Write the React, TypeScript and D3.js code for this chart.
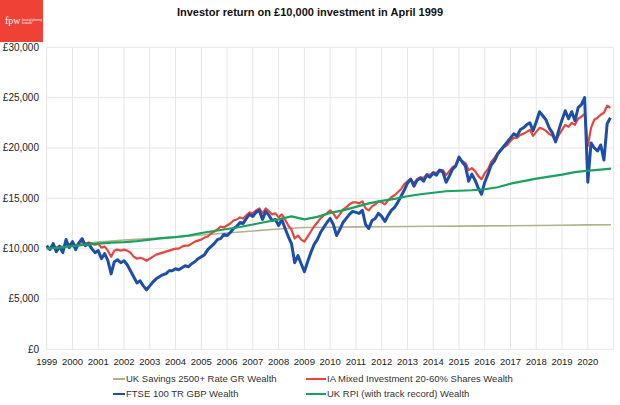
import React from 'react';
import * as d3 from 'd3';

const title = 'Investor return on £10,000 investment in April 1999';
const yearTicks = [1999, 2000, 2001, 2002, 2003, 2004, 2005, 2006, 2007, 2008, 2009, 2010, 2011, 2012, 2013, 2014, 2015, 2016, 2017, 2018, 2019, 2020];
const gridYears = [1999, 2000, 2001, 2002, 2003, 2004, 2005, 2006, 2007, 2008, 2009, 2010, 2011, 2012, 2013, 2014, 2015, 2016, 2017, 2018, 2019, 2020, 2021];
const valueTicks = [0, 5000, 10000, 15000, 20000, 25000, 30000];

// series sampled every 1/8 year from 1999.0
const seriesStart = 1999;
const seriesStep = 0.125;

const ftse = [
  10300, 9900, 10500, 9700, 10200, 9600, 10900, 10100,
  10700, 9900, 10600, 11000, 10300, 10500, 10000, 9600,
  9800, 9000, 9500, 8800, 7500, 8700, 8900, 8600,
  8800, 8400, 7800, 7200, 6600, 6800, 6300, 5900,
  6300, 6700, 7000, 7200, 7400, 7500, 7800, 7800,
  8000, 7900, 8100, 8300, 8200, 8500, 8700, 9000,
  9200, 9400, 9900, 10200, 10500, 10900, 11000, 11400,
  11300, 11600, 12000, 12200, 12600, 12500, 13000, 13400,
  13200, 13600, 13800, 12900, 13700, 13300, 12800, 12900,
  12300, 12900, 12000, 11200, 10500, 8600, 9300, 8500,
  7700, 8700, 9600, 10400, 10900, 11600, 12100, 12600,
  13000, 12400, 11300, 11900, 12600, 13000, 13400, 13700,
  13600, 13500, 13800, 12400, 12000, 12800, 13000, 13500,
  13200, 12700, 13300, 13800, 14100, 14600, 15200, 15800,
  16500, 16900, 16200, 16800, 17000, 16700, 17300, 17100,
  17500, 17300, 17800, 17600, 16600, 17200, 17900, 18200,
  19100, 18600, 18200, 16700, 17400, 16800, 16000, 15400,
  16600, 17400, 18300, 18700, 19400, 19800, 20200, 20600,
  21000, 21400, 21200, 21800, 22000, 22300, 22500, 21700,
  22600, 23600, 23200, 22800, 22000, 21500, 20600, 21800,
  22800, 23700, 22900, 23600, 22700, 24000, 24300, 25000,
  16600, 20500, 20000, 19700, 20300, 18800, 22400, 23000,
];

const iaMixed = [
  10100, 10000, 10300, 10100, 10300, 10100, 10500, 10400,
  10600, 10300, 10500, 10700, 10500, 10600, 10500, 10400,
  10500, 10100, 10200, 9800, 9200, 9800, 9900, 9800,
  9900, 9800, 9600, 9200, 9000, 9100, 9000, 8800,
  9000, 9200, 9400, 9500, 9600, 9700, 9800, 9900,
  10000, 10000, 10200, 10300, 10300, 10500, 10700, 10800,
  10900, 11100, 11200, 11500, 11700, 11900, 12200, 12100,
  12300, 12500, 12800, 12900, 13100, 13000, 13300, 13600,
  13500, 13800, 14000, 13500, 14000, 13700, 13400, 13500,
  13100, 13400, 12900, 12300, 11900, 11000, 11300, 10900,
  10700, 11200, 11700, 12200, 12600, 13000, 13300, 13500,
  13800, 13500, 13000, 13400, 13900, 14100, 14400, 14600,
  14600, 14500, 14700, 14000, 13800, 14200, 14400, 14700,
  14600, 14400, 14800, 15100, 15300, 15600, 15900, 16400,
  16700, 16900, 16500, 16900, 17100, 17000, 17400, 17300,
  17600, 17500, 17800, 17800, 17300, 17700, 18100, 18300,
  18900, 18700, 18500, 17800, 18000, 17700, 17200, 16900,
  17500, 17900, 18600, 19000, 19500, 19800, 20100, 20300,
  20700, 21000, 21000, 21300, 21400, 21600, 21800, 21200,
  21600, 22000, 21900, 21700, 21400, 21200, 20700, 21300,
  21800, 22300, 22100, 22500, 22300, 22900, 23100, 23400,
  20200, 22000, 22800, 23000, 23300, 23500, 24200, 24000,
];

const rpiDates = [1999, 1999.5, 2000, 2000.5, 2001, 2001.5, 2002, 2002.5, 2003, 2003.5, 2004, 2004.5, 2005, 2005.5, 2006, 2006.5, 2007, 2007.5, 2008, 2008.5, 2009, 2009.5, 2010, 2010.5, 2011, 2011.5, 2012, 2012.5, 2013, 2013.5, 2014, 2014.5, 2015, 2015.5, 2016, 2016.5, 2017, 2017.5, 2018, 2018.5, 2019, 2019.5, 2020, 2020.5, 2020.9];
const rpi = [10000, 10100, 10250, 10400, 10500, 10600, 10650, 10750, 10900, 11050, 11150, 11300, 11550, 11750, 11950, 12150, 12400, 12650, 12900, 13200, 12900, 13150, 13550, 13800, 14150, 14500, 14750, 14950, 15200, 15400, 15550, 15700, 15750, 15800, 15900, 16100, 16450, 16700, 16950, 17150, 17350, 17600, 17750, 17850, 17950];

const savingsDates = [1999, 2000, 2001, 2002, 2003, 2004, 2005, 2006, 2007, 2008, 2009, 2010, 2011, 2012, 2013, 2014, 2015, 2016, 2017, 2018, 2019, 2020, 2020.9];
const savings = [10000, 10350, 10650, 10850, 11000, 11150, 11350, 11550, 11750, 11950, 12100, 12130, 12160, 12180, 12200, 12220, 12240, 12260, 12280, 12300, 12330, 12360, 12380];

const seriesNames = ['UK Savings 2500+ Rate GR Wealth', 'IA Mixed Investment 20-60% Shares Wealth', 'FTSE 100 TR GBP Wealth', 'UK RPI (with track record) Wealth'];
const seriesColors = ['#b3b08a', '#e8453c', '#1d4fa8', '#17a35d'];

const FONT = '"Liberation Sans", Arial, sans-serif';

export default function App() {
  const W = 620, H = 405;
  const x = d3.scaleLinear().domain([1999, 2021]).range([46.7, 613.6]);
  const y = d3.scaleLinear().domain([0, 30000]).range([349.3, 47.3]);
  const line = d3.line<[number, number]>().x(d => x(d[0])).y(d => y(d[1]));

  const ftsePts = ftse.map((v, i) => [seriesStart + i * seriesStep, v] as [number, number]);
  const iaPts = iaMixed.map((v, i) => [seriesStart + i * seriesStep, v] as [number, number]);
  const rpiPts = rpi.map((v, i) => [rpiDates[i], v] as [number, number]);
  const savPts = savings.map((v, i) => [savingsDates[i], v] as [number, number]);

  const paths = [
    { d: line(savPts), c: seriesColors[0], w: 1.6 },
    { d: line(iaPts), c: seriesColors[1], w: 2.2 },
    { d: line(ftsePts), c: seriesColors[2], w: 3 },
    { d: line(rpiPts), c: seriesColors[3], w: 2.2 },
  ];

  const legend = [
    { name: seriesNames[0], c: seriesColors[0], lx: 113, row: 0 },
    { name: seriesNames[1], c: seriesColors[1], lx: 306, row: 0 },
    { name: seriesNames[2], c: seriesColors[2], lx: 113, row: 1 },
    { name: seriesNames[3], c: seriesColors[3], lx: 306, row: 1 },
  ];

  return (
    <svg width={W} height={H} style={{ position: 'absolute', left: 0, top: 0, background: '#fff' }} fontFamily={FONT}>
      <rect x={0} y={0} width={W} height={H} fill="#fff" />
      {/* logo */}
      <rect x={0} y={0} width={43} height={42} fill="#ef4136" />
      <text x={5} y={24} fill="#fff" fontFamily='"Liberation Serif", "DejaVu Serif", serif' fontSize={10}>fpw</text>
      <text x={22} y={21} fill="#fff" fontSize={2.6}>financial planning</text>
      <text x={22} y={24} fill="#fff" fontSize={2.6}>&amp; wealth</text>

      <text x={310} y={16} textAnchor="middle" fontSize={11} fontWeight="bold" fill="#111">{title}</text>

      {/* grid */}
      {valueTicks.map(v => (
        <line key={'h' + v} x1={x(1999)} x2={x(2021)} y1={y(v)} y2={y(v)} stroke="#e6e6e6" strokeWidth={1} />
      ))}
      {gridYears.map(t => (
        <line key={'v' + t} x1={x(t)} x2={x(t)} y1={y(30000)} y2={y(0)} stroke="#e6e6e6" strokeWidth={1} />
      ))}

      {valueTicks.map(v => (
        <text key={'yl' + v} x={39} y={y(v)} dy="0.35em" textAnchor="end" fontSize={10} fill="#222">
          {'£' + d3.format(',')(v)}
        </text>
      ))}
      {yearTicks.map(t => (
        <text key={'xl' + t} x={x(t)} y={365} textAnchor="middle" fontSize={9.5} fill="#222">{t}</text>
      ))}

      {paths.map((p, i) => (
        <path key={i} d={p.d || ''} fill="none" stroke={p.c} strokeWidth={p.w} strokeLinejoin="round" />
      ))}

      {legend.map((l, i) => (
        <g key={i}>
          <line x1={l.lx} x2={l.lx + (l.lx > 200 ? 20 : 12)} y1={379 + l.row * 15} y2={379 + l.row * 15} stroke={l.c} strokeWidth={2} />
          <text x={l.lx + (l.lx > 200 ? 21 : 13)} y={379 + l.row * 15} dy="0.35em" fontSize={9.5} fill="#333">{l.name}</text>
        </g>
      ))}
    </svg>
  );
}
